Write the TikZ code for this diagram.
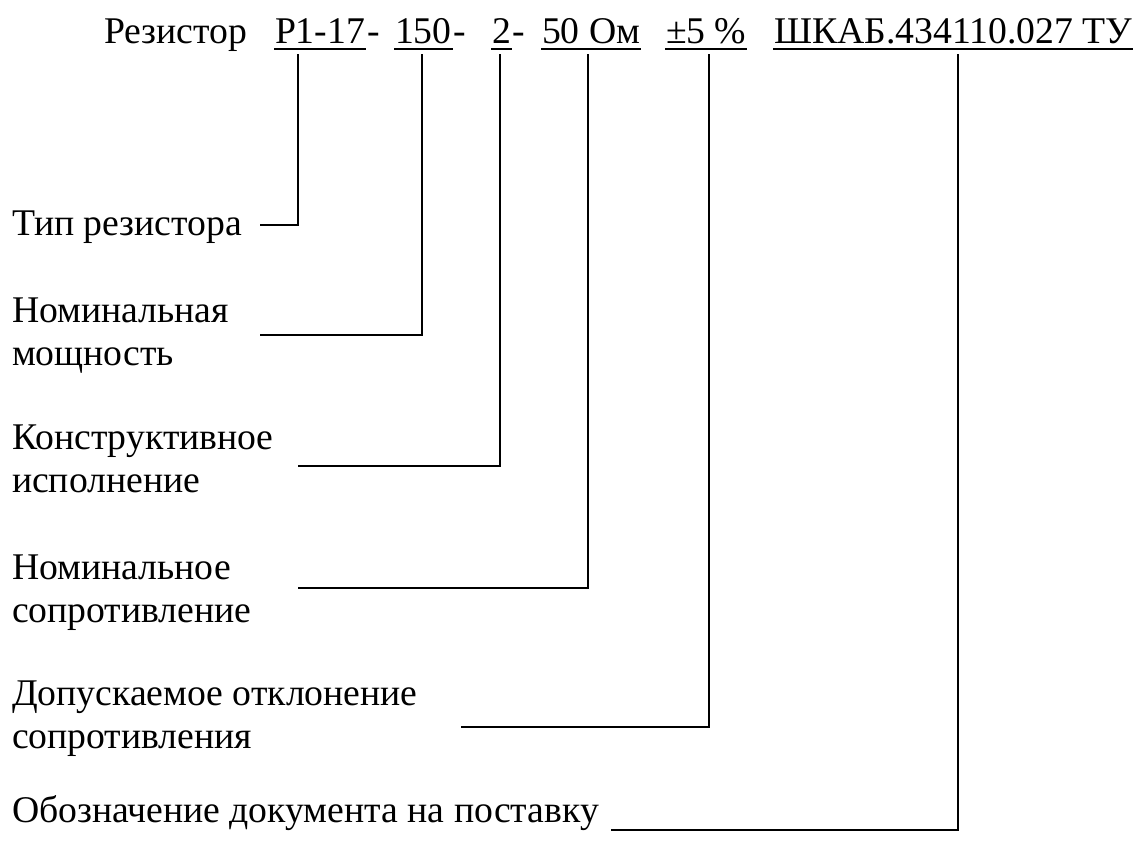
\documentclass[tikz,border=0pt]{standalone}
\usepackage{fontspec}
\setmainfont{Liberation Serif}
\usetikzlibrary{positioning}

\begin{document}
\begin{tikzpicture}[x=0.5pt, y=-0.5pt, line width=1pt,
    txt/.style={font=\fontsize{18.85}{21.5}\selectfont, inner sep=0pt, anchor=base west},
    part/.style={txt, inner ysep=2.5pt, text depth=0pt},
    lbl/.style={txt, align=left}]
    \useasboundingbox (0,0) rectangle (1134,841);

    % top line
    \node[txt] (rez) at (103,43) {Резистор};
    \node[part] (p1) at (274,43) {Р1-17};
    \node[txt, base right=0pt of p1] (d1) {-};
    \node[part] (p2) at (394,43) {150};
    \node[txt, base right=0pt of p2] (d2) {-};
    \node[part] (p3) at (491,43) {2};
    \node[txt, base right=0pt of p3] (d3) {-};
    \node[part] (p4) at (541,43) {50 Ом};
    \node[part] (p5) at (665,43) {±5 \%};
    \node[part] (p6) at (773,43) {ШКАБ.434110.027 ТУ};
    \foreach \p in {p1,p2,p3,p4,p5,p6}
        \draw (\p.south west) -- (\p.south east);

    % labels (base = last line)
    \node[txt] (typ) at (11,235) {Тип резистора};
    \node[lbl] (mosh) at (11,365) {Номинальная\\мощность};
    \node[lbl] (konstr) at (11,492) {Конструктивное\\исполнение};
    \node[lbl] (nomr) at (11,622) {Номинальное\\сопротивление};
    \node[lbl] (dop) at (11,748) {Допускаемое отклонение\\сопротивления};
    \node[txt] (obozn) at (11,822) {Обозначение документа на поставку};

    % leaders
    \coordinate (s1) at (260,225);
    \coordinate (s2) at (260,335);
    \coordinate (s3) at (298,466);
    \coordinate (s4) at (298,588);
    \coordinate (s5) at (461,727);
    \coordinate (s6) at (611,830);
    \coordinate (v1) at (298,0);
    \coordinate (v2) at (422,0);
    \coordinate (v3) at (500,0);
    \coordinate (v4) at (588,0);
    \coordinate (v5) at (709,0);
    \coordinate (v6) at (958,0);
    \draw[shorten >=2.5pt] (s1) -| (v1 |- p1.south);
    \draw[shorten >=2.5pt] (s2) -| (v2 |- p2.south);
    \draw[shorten >=2.5pt] (s3) -| (v3 |- p3.south);
    \draw[shorten >=2.5pt] (s4) -| (v4 |- p4.south);
    \draw[shorten >=2.5pt] (s5) -| (v5 |- p5.south);
    \draw[shorten >=2.5pt] (s6) -| (v6 |- p6.south);
\end{tikzpicture}
\end{document}
